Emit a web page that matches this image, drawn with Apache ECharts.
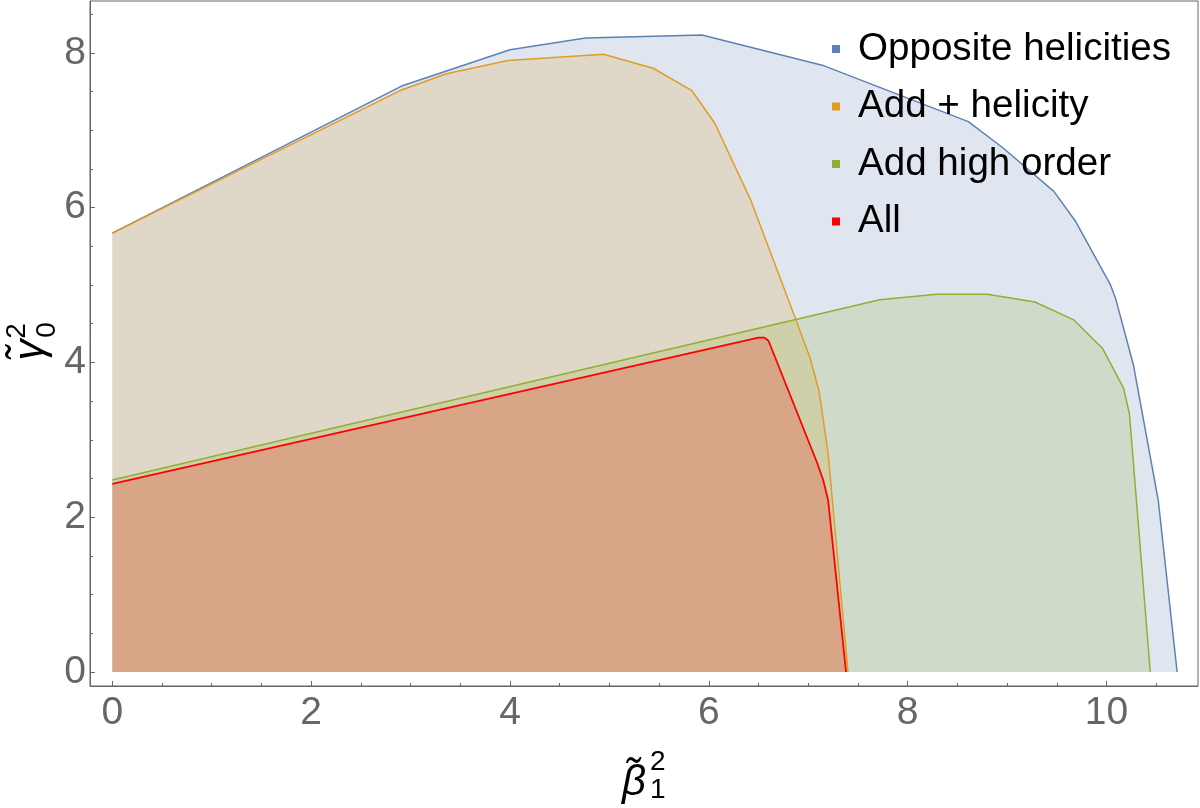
<!DOCTYPE html>
<html>
<head>
<meta charset="utf-8">
<script src="https://cdn.jsdelivr.net/npm/echarts@6/dist/echarts.min.js"></script>
<style>
html, body { margin: 0; padding: 0; background: #fff; }
#main { width: 1200px; height: 808px; }
</style>
</head>
<body>
<div id="main"></div>
<script>
var chart = echarts.init(document.getElementById('main'));

// series names
var names = ['Opposite helicities', 'Add + helicity', 'Add high order', 'All'];

// Opposite helicities
var oppX = [0, 2.91, 4.00, 4.76, 5.93, 7.14, 8.61, 8.96, 9.47, 9.69, 10.04, 10.09, 10.27, 10.52, 10.71];
var oppY = [5.67, 7.57, 8.04, 8.19, 8.23, 7.84, 7.11, 6.77, 6.21, 5.82, 5.00, 4.83, 3.97, 2.22, 0];
// Add + helicity
var plusX = [0, 2.91, 3.36, 3.98, 4.94, 5.44, 5.83, 6.06, 6.42, 6.87, 7.02, 7.11, 7.20, 7.40];
var plusY = [5.67, 7.52, 7.73, 7.90, 7.98, 7.80, 7.51, 7.09, 6.10, 4.57, 4.05, 3.62, 2.82, 0];
// Add high order
var highX = [0, 7.72, 8.29, 8.80, 9.28, 9.67, 9.96, 10.17, 10.23, 10.44];
var highY = [2.48, 4.81, 4.88, 4.88, 4.78, 4.55, 4.18, 3.67, 3.34, 0];
// All
var allX = [0, 6.50, 6.56, 6.60, 7.09, 7.15, 7.20, 7.38];
var allY = [2.43, 4.32, 4.32, 4.28, 2.70, 2.48, 2.22, 0];

var xMajor = [0, 2, 4, 6, 8, 10];
var xMinor = [0.5, 1, 1.5, 2.5, 3, 3.5, 4.5, 5, 5.5, 6.5, 7, 7.5, 8.5, 9, 9.5, 10.5];
var yMajor = [0, 2, 4, 6, 8];
var yMinor = [0.5, 1, 1.5, 2.5, 3, 3.5, 4.5, 5, 5.5, 6.5, 7, 7.5, 8.5];

var colors = ['#5e81b5', '#e19c24', '#8fb032', '#ff0000'];

function pairs(xs, ys) {
    var out = [];
    for (var i = 0; i < xs.length; i++) out.push([xs[i], ys[i]]);
    return out;
}

function makeSeries(i, xs, ys, w) {
    return {
        name: names[i],
        type: 'line',
        data: pairs(xs, ys),
        symbol: 'none',
        itemStyle: { color: colors[i] },
        lineStyle: { color: colors[i], width: w },
        areaStyle: { color: colors[i], opacity: 0.2 },
        xAxisIndex: 0,
        yAxisIndex: 0
    };
}

var font = 'Liberation Sans, Arial, sans-serif';
var xMin = -0.224, xMax = 10.92, yMin = -0.181, yMax = 8.669;

var option = {
    animation: false,
    backgroundColor: '#fff',
    grid: {
        left: 90, top: 1, right: 2, bottom: 122,
        show: true, borderColor: '#666', borderWidth: 1
    },
    legend: {
        data: names,
        orient: 'vertical',
        left: 827,
        top: 21,
        icon: 'rect',
        itemWidth: 8,
        itemHeight: 8,
        itemGap: 11.5,
        textStyle: {
            fontFamily: font,
            fontSize: 38.6,
            color: '#000',
            lineHeight: 46,
            padding: [0, 0, 0, 13]
        }
    },
    xAxis: [{
        type: 'value', min: xMin, max: xMax,
        axisLine: { show: true, onZero: false, lineStyle: { color: '#666' } },
        axisTick: { inside: true, length: 5, customValues: xMajor, lineStyle: { color: '#666' } },
        axisLabel: { customValues: xMajor, margin: 8, color: '#666', fontFamily: font, fontSize: 39 },
        splitLine: { show: false }
    }, {
        type: 'value', min: xMin, max: xMax, position: 'bottom',
        axisLine: { show: false, onZero: false },
        axisTick: { inside: true, length: 3, customValues: xMinor, lineStyle: { color: '#666' } },
        axisLabel: { show: false },
        splitLine: { show: false }
    }],
    yAxis: [{
        type: 'value', min: yMin, max: yMax,
        axisLine: { show: true, onZero: false, lineStyle: { color: '#666' } },
        axisTick: { inside: true, length: 5, customValues: yMajor, lineStyle: { color: '#666' } },
        axisLabel: { customValues: yMajor, margin: 4, color: '#666', fontFamily: font, fontSize: 39 },
        splitLine: { show: false }
    }, {
        type: 'value', min: yMin, max: yMax, position: 'left',
        axisLine: { show: false, onZero: false },
        axisTick: { inside: true, length: 3, customValues: yMinor, lineStyle: { color: '#666' } },
        axisLabel: { show: false },
        splitLine: { show: false }
    }],
    graphic: [
        // x axis title
        { type: 'text', x: 634, y: 783, style: { text: 'β\u0303', font: 'italic 42px ' + font, fill: '#000', align: 'center', verticalAlign: 'middle' } },
        { type: 'text', x: 650, y: 762, style: { text: '2', font: '28px ' + font, fill: '#000', align: 'left', verticalAlign: 'middle' } },
        { type: 'text', x: 650, y: 790, style: { text: '1', font: '28px ' + font, fill: '#000', align: 'left', verticalAlign: 'middle' } },
        // y axis title
        { type: 'text', x: 31, y: 350, rotation: Math.PI / 2, style: { text: 'γ\u0303', font: 'italic 42px ' + font, fill: '#000', align: 'center', verticalAlign: 'middle' } },
        { type: 'text', x: 17, y: 331, rotation: Math.PI / 2, style: { text: '2', font: '28px ' + font, fill: '#000', align: 'center', verticalAlign: 'middle' } },
        { type: 'text', x: 47, y: 330, rotation: Math.PI / 2, style: { text: '0', font: '28px ' + font, fill: '#000', align: 'center', verticalAlign: 'middle' } }
    ],
    series: [
        makeSeries(0, oppX, oppY, 1.5),
        makeSeries(1, plusX, plusY, 1.5),
        makeSeries(2, highX, highY, 1.5),
        makeSeries(3, allX, allY, 1.8)
    ]
};

chart.setOption(option);
</script>
</body>
</html>
